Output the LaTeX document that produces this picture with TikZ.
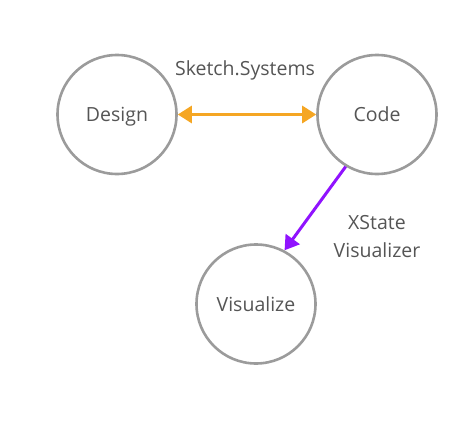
\documentclass[tikz,border=0pt]{standalone}
\usepackage{fontspec}
\setmainfont{Open Sans}
\usetikzlibrary{arrows.meta}
\definecolor{ring}{HTML}{9B9B9B}
\definecolor{txt}{HTML}{555555}
\definecolor{orng}{HTML}{F5A623}
\definecolor{purp}{HTML}{9013FE}
\begin{document}
\begin{tikzpicture}[x=1pt,y=-1pt,
  state/.style={circle,draw=ring,line width=2.6pt,minimum size=119pt,inner sep=0pt,text=txt,text depth=0pt,font=\fontsize{19.5}{21}\selectfont},
  lbl/.style={text=txt,font=\fontsize{19.5}{21}\selectfont,inner sep=0pt},
  tip/.style={-{Triangle[length=14pt,width=17pt]}}]
\useasboundingbox (0,0) rectangle (472,423);
\node[state] (design) at (117,114.5) {Design};
\node[state] (code) at (377,114.5) {Code};
\node[state] (vis) at (256,304) {Visualize};
\draw[orng,line width=3pt,{Triangle[length=14pt,width=17pt]}-{Triangle[length=14pt,width=17pt]}] (design.east) -- (code.west);
\node[lbl] (sk) at (245,70) {Sketch.Systems};
\draw[purp,line width=3pt,tip] (code.-121) -- (vis.62);
\node[lbl] (xs) at (377,223) {XState};
\node[lbl] (xv) at (377,250) {Visualizer};
\end{tikzpicture}
\end{document}
